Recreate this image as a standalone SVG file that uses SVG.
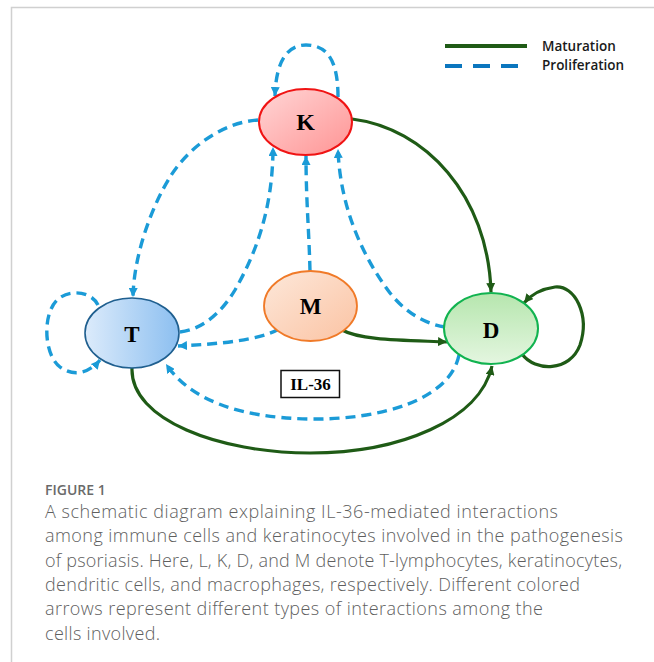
<svg xmlns="http://www.w3.org/2000/svg" width="654" height="662" viewBox="0 0 654 662">
<defs>
<style>
.mat{fill:none;stroke:#1f5b16;stroke-width:3.2}
.pro{fill:none;stroke:#1b9bd7;stroke-width:3.4;stroke-dasharray:10 6}
.lbl{font-family:"Liberation Serif","Times New Roman",serif;font-weight:bold;fill:#000;text-anchor:middle}
.leg{font-family:"Open Sans","Noto Sans",sans-serif;font-weight:600;font-size:13.5px;fill:#1a1a1a}
.cap{font-family:"Open Sans","Noto Sans",sans-serif;font-weight:300;font-size:18px;fill:#5f5f5f}
</style>
<marker id="ag" viewBox="0 0 10 10" refX="10" refY="5" markerWidth="9" markerHeight="9" markerUnits="userSpaceOnUse" orient="auto"><path d="M0,0 L10,5 L0,10 Z" fill="#1f5b16"/></marker>
<marker id="ab" viewBox="0 0 10 10" refX="10" refY="5" markerWidth="9" markerHeight="9" markerUnits="userSpaceOnUse" orient="auto"><path d="M0,0 L10,5 L0,10 Z" fill="#1b9bd7"/></marker>
<linearGradient id="gK" x1="0" y1="0" x2="1" y2="1"><stop offset="0" stop-color="#ffd6d6"/><stop offset="1" stop-color="#ff9494"/></linearGradient>
<linearGradient id="gT" x1="0" y1="0" x2="1" y2="0"><stop offset="0" stop-color="#dcebfb"/><stop offset="1" stop-color="#8cbff0"/></linearGradient>
<linearGradient id="gM" x1="0" y1="0" x2="1" y2="1"><stop offset="0" stop-color="#fde8da"/><stop offset="1" stop-color="#fbc3a3"/></linearGradient>
<linearGradient id="gD" x1="0" y1="0" x2="0" y2="1"><stop offset="0" stop-color="#b6e6ae"/><stop offset="1" stop-color="#e4f6e0"/></linearGradient>
</defs>
<rect width="654" height="662" fill="#fff"/>
<path d="M11.5,662 V7.5 H654" fill="none" stroke="#d0d0d0" stroke-width="1.5"/>

<g id="legend">
<line x1="445" y1="46" x2="527" y2="46" stroke="#1f5b16" stroke-width="4"/>
<line x1="445" y1="66" x2="528" y2="66" stroke="#0b76be" stroke-width="4" stroke-dasharray="17 11"/>
<text class="leg" x="542" y="51">Maturation</text>
<text class="leg" x="542" y="70">Proliferation</text>
</g>

<g id="connectors">
<path class="pro" d="M338,97 C338,65 330,45 306,45 C288,45 276,60 275,96" marker-end="url(#ab)"/>
<path class="pro" d="M258,120 C225,122 190,145 170,177 C155,201 134,250 133,297" marker-end="url(#ab)"/>
<path class="pro" d="M180,332 C200,330 220,315 235,290 C255,255 273,210 273,147" marker-end="url(#ab)"/>
<path class="pro" d="M310,271 C309,230 306,200 306,156" marker-end="url(#ab)"/>
<path class="pro" d="M445,327 C425,324 405,312 390,293 C365,260 340,210 338,149" marker-end="url(#ab)"/>
<path class="pro" d="M279,329 C260,340 220,344 178,346" marker-end="url(#ab)"/>
<path class="pro" d="M459,355 C450,400 380,420 310,419 C240,418 190,400 166,364" marker-end="url(#ab)"/>
<path class="pro" d="M98,305 C92,292 70,288 57,300 C42,315 44,355 60,367 C75,378 90,372 100,360" marker-end="url(#ab)"/>
<path class="mat" d="M352,119 C425,128 488,195 491,292" marker-end="url(#ag)"/>
<path class="mat" d="M342,330 C360,340 400,340 447,342" marker-end="url(#ag)"/>
<path class="mat" d="M522,354 C535,372 570,372 580,345 C590,315 575,285 555,287 C540,289 530,296 524,303" marker-end="url(#ag)"/>
<path class="mat" d="M132,368 C130,420 220,453 310,453 C400,453 480,420 492,366" marker-end="url(#ag)"/>
</g>

<g id="node-K">
<ellipse cx="305.5" cy="122" rx="46.5" ry="33" fill="url(#gK)" stroke="#f01414" stroke-width="2"/>
<text class="lbl" x="305.5" y="129.5" font-size="24">K</text>
</g>
<g id="node-T">
<ellipse cx="132" cy="333" rx="47" ry="35" fill="url(#gT)" stroke="#1f5f8f" stroke-width="1.6"/>
<text class="lbl" x="132" y="342" font-size="23">T</text>
</g>
<g id="node-M">
<ellipse cx="310.5" cy="306" rx="46.5" ry="35" fill="url(#gM)" stroke="#f07a28" stroke-width="1.8"/>
<text class="lbl" x="310.5" y="314" font-size="23">M</text>
</g>
<g id="node-D">
<ellipse cx="491" cy="328.5" rx="47" ry="35.5" fill="url(#gD)" stroke="#11b350" stroke-width="2"/>
<text class="lbl" x="491" y="338" font-size="23">D</text>
</g>
<g id="node-IL36">
<rect x="281" y="370.5" width="58.5" height="27" fill="#fff" stroke="#111" stroke-width="1.5"/>
<text class="lbl" x="310.5" y="390" font-size="17">IL-36</text>
</g>

<g id="caption">
<text x="45" y="495" font-family="'Open Sans','Noto Sans',sans-serif" font-weight="600" font-size="14" fill="#6a6a6a">FIGURE 1</text>
<text class="cap" x="45" y="518" textLength="513" lengthAdjust="spacing">A schematic diagram explaining IL-36-mediated interactions</text>
<text class="cap" x="45" y="542" textLength="578" lengthAdjust="spacing">among immune cells and keratinocytes involved in the pathogenesis</text>
<text class="cap" x="45" y="566.5" textLength="577" lengthAdjust="spacing">of psoriasis. Here, L, K, D, and M denote T-lymphocytes, keratinocytes,</text>
<text class="cap" x="45" y="591" textLength="535" lengthAdjust="spacing">dendritic cells, and macrophages, respectively. Different colored</text>
<text class="cap" x="45" y="615" textLength="498" lengthAdjust="spacing">arrows represent different types of interactions among the</text>
<text class="cap" x="45" y="639.5" textLength="115" lengthAdjust="spacing">cells involved.</text>
</g>
</svg>
